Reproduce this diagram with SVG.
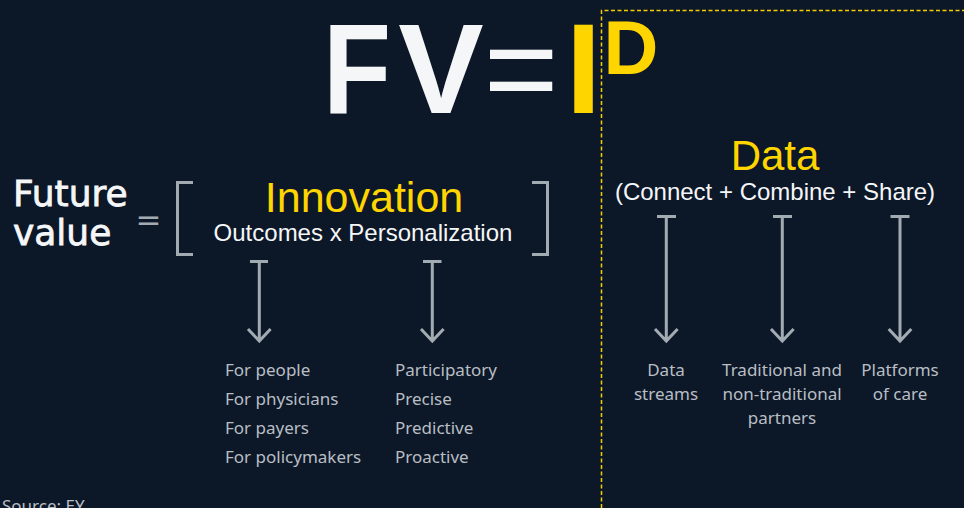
<svg xmlns="http://www.w3.org/2000/svg" width="964" height="508" viewBox="0 0 964 508">
<style>
.bg{fill:#0c1828}
.wh{fill:#f5f6f8;font-family:"Liberation Sans",Arial,sans-serif}
.ye{fill:#ffd500;font-family:"Liberation Sans",Arial,sans-serif}
.gr{fill:#b9bec4;font-family:"Noto Sans","Liberation Sans",Arial,sans-serif;font-size:17px}
.dv{font-family:"DejaVu Sans",sans-serif}
.med{stroke:#f5f6f8;stroke-width:0.8}
.big{font-weight:bold;font-size:128px}
.ln{stroke:#a3abb2;stroke-width:3;fill:none;stroke-linecap:butt}
.dash{stroke:#f2cc00;stroke-width:1.5;stroke-dasharray:4 2.5;fill:none}
</style>
<rect class="bg" x="0" y="0" width="964" height="508"/>
<g id="data-frame"><path class="dash" d="M601.5,508 V10.5 H964"/></g>
<g id="formula">
<text class="wh big" x="357" y="113" text-anchor="middle" textLength="68" lengthAdjust="spacingAndGlyphs">F</text>
<text class="wh big" x="441" y="113" text-anchor="middle">V</text>
<text class="wh" x="521" y="113" text-anchor="middle" font-size="128">=</text>
<text class="ye big" x="583.5" y="113" text-anchor="middle">I</text>
<text class="ye" x="631" y="74" text-anchor="middle" font-weight="bold" font-size="76">D</text>
</g>
<g id="future-value">
<text class="wh dv med" x="13" y="206" font-size="36">Future</text>
<text class="wh dv med" x="13" y="245" font-size="36">value</text>
<text class="dv" x="148.5" y="230" text-anchor="middle" font-size="31" fill="#a3abb2">=</text>
</g>
<g id="innovation">
<path class="ln" d="M193,182.5 H177.5 V254.5 H193"/>
<path class="ln" d="M532,182.5 H547.5 V254.5 H532"/>
<text class="ye" x="364" y="212" text-anchor="middle" font-size="43">Innovation</text>
<text class="wh" x="363" y="241" text-anchor="middle" font-size="24">Outcomes x Personalization</text>
</g>
<g id="data">
<text class="ye" x="775" y="170" text-anchor="middle" font-size="42">Data</text>
<text class="wh" x="775" y="200" text-anchor="middle" font-size="24">(Connect + Combine + Share)</text>
</g>
<g id="connectors">
<path class="ln" d="M250,261.5 H268 M259.3,261.5 V341 M248,329 L259.3,341 L270.6,329"/>
<path class="ln" d="M423,261.5 H441.5 M432.3,261.5 V341 M421,329 L432.3,341 L443.6,329"/>
<path class="ln" d="M657,216.5 H676 M666.3,216.5 V341 M655,329 L666.3,341 L677.6,329"/>
<path class="ln" d="M773,216.5 H792 M782.3,216.5 V341 M771,329 L782.3,341 L793.6,329"/>
<path class="ln" d="M890.5,216.5 H909.5 M900,216.5 V341 M888.7,329 L900,341 L911.3,329"/>
</g>
<g id="people-list">
<text class="gr" x="225" y="376">For people</text>
<text class="gr" x="225" y="405">For physicians</text>
<text class="gr" x="225" y="434">For payers</text>
<text class="gr" x="225" y="463">For policymakers</text>
</g>
<g id="p-list">
<text class="gr" x="395" y="376">Participatory</text>
<text class="gr" x="395" y="405">Precise</text>
<text class="gr" x="395" y="434">Predictive</text>
<text class="gr" x="395" y="463">Proactive</text>
</g>
<g id="data-streams"><text class="gr" x="666" y="376" text-anchor="middle">Data</text><text class="gr" x="666" y="400" text-anchor="middle">streams</text></g>
<g id="partners"><text class="gr" x="782" y="376" text-anchor="middle">Traditional and</text><text class="gr" x="782" y="400" text-anchor="middle">non-traditional</text><text class="gr" x="782" y="424" text-anchor="middle">partners</text></g>
<g id="platforms"><text class="gr" x="900" y="376" text-anchor="middle">Platforms</text><text class="gr" x="900" y="400" text-anchor="middle">of care</text></g>
<text class="gr" x="2" y="512" font-size="16">Source: EY</text>
</svg>
